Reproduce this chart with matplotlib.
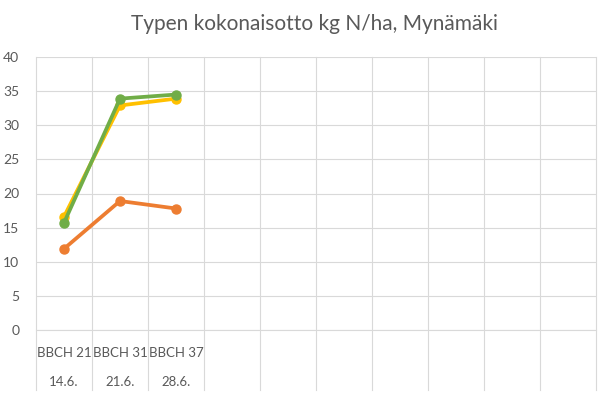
import matplotlib.pyplot as plt
import numpy as np

vaiheet = ["BBCH 21", "BBCH 31", "BBCH 37", "", "", "", "", "", "", ""]
paivat = ["14.6.", "21.6.", "28.6.", "", "", "", "", "", "", ""]
oranssi = [11.9, 18.9, 17.8]
keltainen = [16.6, 32.9, 33.9]
vihrea = [15.7, 33.9, 34.5]

plt.rcParams["font.family"] = ["Lato", "DejaVu Sans"]
harmaa = "#595959"
viiva = "#d9d9d9"

fig = plt.figure(figsize=(6.11, 3.97), dpi=100)
ax = fig.add_axes([36 / 611, 67 / 397, 560 / 611, 273 / 397])

x = np.arange(len(vaiheet))
ax.plot(x[:3], oranssi, "-o", color="#ED7D31", lw=2.7, ms=6.5)
ax.plot(x[:3], keltainen, "-o", color="#FFC000", lw=2.7, ms=6.5)
ax.plot(x[:3], vihrea, "-o", color="#70AD47", lw=2.7, ms=6.5)

ax.set_xlim(-0.5, len(vaiheet) - 0.5)
ax.set_ylim(0, 40)
ax.set_yticks(np.arange(0, 41, 5))
ax.yaxis.grid(True, color=viiva, lw=0.8)
ax.set_axisbelow(True)
for s in ["top", "right", "left"]:
    ax.spines[s].set_visible(False)
ax.spines["bottom"].set_color(viiva)
ax.tick_params(axis="y", length=0, colors=harmaa, labelsize=10, pad=12)
ax.tick_params(axis="x", length=0, labelbottom=False)

# category boundaries, extending into the label area
for b in np.arange(len(vaiheet) + 1) - 0.5:
    ax.plot([b, b], [-0.22, 1], color=viiva, lw=0.8,
            transform=ax.get_xaxis_transform(), clip_on=False, zorder=0)

for i, (v, p) in enumerate(zip(vaiheet, paivat)):
    ax.text(i, -0.085, v, transform=ax.get_xaxis_transform(),
            ha="center", va="center", color=harmaa, fontsize=9.5)
    ax.text(i, -0.19, p, transform=ax.get_xaxis_transform(),
            ha="center", va="center", color=harmaa, fontsize=9.5)

fig.suptitle("Typen kokonaisotto kg N/ha, Mynämäki", x=0.515, y=0.965,
             color=harmaa, fontsize=15)

fig.savefig("out.png", dpi=100)
